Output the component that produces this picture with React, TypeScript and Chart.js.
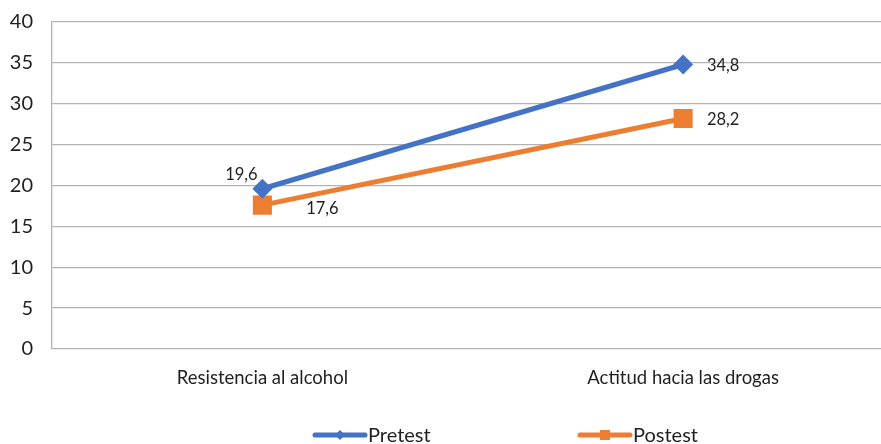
import React, { useEffect, useRef } from "react";
import { Chart, registerables } from "chart.js";

Chart.register(...registerables);

const categories = ["Resistencia al alcohol", "Actitud hacia las drogas"];
const pretest = [19.6, 34.8];
const postest = [17.6, 28.2];
const yTicks = { min: 0, max: 40, step: 5 };
const seriesNames = ["Pretest", "Postest"];
const colors = ["#4472C4", "#ED7D31"];

const FONT = "Lato, 'Open Sans', sans-serif";

// label offsets relative to each point (dataset -> point)
const labelOffsets = [
  [{ dx: -21, dy: -14 }, { dx: 40, dy: 1 }],
  [{ dx: 60, dy: 4 }, { dx: 40, dy: 1 }],
];

const fmt = (v: number) => v.toFixed(1).replace(".", ",");

const dataLabelPlugin = {
  id: "dataLabels",
  afterDatasetsDraw(chart: any) {
    const ctx = chart.ctx;
    ctx.save();
    ctx.font = `16.5px ${FONT}`;
    ctx.fillStyle = "#1f1f1f";
    ctx.textAlign = "center";
    ctx.textBaseline = "middle";
    chart.data.datasets.forEach((ds: any, i: number) => {
      const meta = chart.getDatasetMeta(i);
      meta.data.forEach((pt: any, j: number) => {
        const o = labelOffsets[i][j];
        ctx.fillText(fmt(ds.data[j]), pt.x + o.dx, pt.y + o.dy);
      });
    });
    ctx.restore();
  },
};

const legendPlugin = {
  id: "customLegend",
  afterDraw(chart: any) {
    const ctx = chart.ctx;
    ctx.save();
    ctx.font = `20px ${FONT}`;
    ctx.textBaseline = "middle";
    ctx.textAlign = "left";
    const y = 435;
    const starts = [315, 580];
    chart.data.datasets.forEach((ds: any, i: number) => {
      const x0 = starts[i];
      ctx.strokeStyle = ds.borderColor;
      ctx.lineWidth = 5;
      ctx.lineCap = "round";
      ctx.beginPath();
      ctx.moveTo(x0, y);
      ctx.lineTo(x0 + 50, y);
      ctx.stroke();
      ctx.fillStyle = ds.borderColor;
      const cx = x0 + 25;
      if (ds.pointStyle === "rectRot") {
        ctx.beginPath();
        ctx.moveTo(cx, y - 5);
        ctx.lineTo(cx + 5, y);
        ctx.lineTo(cx, y + 5);
        ctx.lineTo(cx - 5, y);
        ctx.closePath();
        ctx.fill();
      } else {
        ctx.fillRect(cx - 5, y - 5, 10, 10);
      }
      ctx.fillStyle = "#1f1f1f";
      ctx.fillText(ds.label, x0 + 53, y + 1);
    });
    ctx.restore();
  },
};

export default function App() {
  const ref = useRef<HTMLCanvasElement>(null);
  useEffect(() => {
    if (!ref.current) return;
    const chart = new Chart(ref.current, {
      type: "line",
      data: {
        labels: categories,
        datasets: [
          {
            label: seriesNames[0],
            data: pretest,
            borderColor: colors[0],
            backgroundColor: colors[0],
            borderWidth: 5,
            pointStyle: "rectRot",
            pointRadius: 10,
            pointHoverRadius: 10,
            pointBorderWidth: 0,
            pointBackgroundColor: colors[0],
          },
          {
            label: seriesNames[1],
            data: postest,
            borderColor: colors[1],
            backgroundColor: colors[1],
            borderWidth: 5,
            pointStyle: "rect",
            pointRadius: 13.5,
            pointHoverRadius: 13.5,
            pointBorderWidth: 0,
            pointBackgroundColor: colors[1],
          },
        ],
      },
      options: {
        responsive: false,
        maintainAspectRatio: false,
        animation: false,
        layout: { padding: { top: 22, right: 8, left: 0, bottom: 0 } },
        plugins: {
          legend: { display: false },
          title: { display: false },
          tooltip: { enabled: false },
        },
        scales: {
          x: {
            offset: true,
            grid: { display: false, drawTicks: false },
            border: { display: false },
            ticks: {
              padding: 18,
              color: "#1f1f1f",
              font: { family: FONT, size: 18.5 },
              maxRotation: 0,
            },
            afterFit: (s: any) => {
              s.height = 95;
            },
          },
          y: {
            min: yTicks.min,
            max: yTicks.max,
            grid: { color: "#b3b3b3", lineWidth: 1.3, drawTicks: false },
            border: { color: "#b3b3b3", width: 1.3 },
            ticks: {
              stepSize: yTicks.step,
              padding: 19,
              color: "#1f1f1f",
              font: { family: FONT, size: 20 },
            },
            afterFit: (s: any) => {
              s.width = 52;
              s.paddingTop = 0;
              s.paddingBottom = 0;
            },
          },
        },
      },
      plugins: [dataLabelPlugin, legendPlugin],
    });
    return () => chart.destroy();
  }, []);
  return (
    <div
      style={{
        position: "fixed",
        left: 0,
        top: 0,
        width: 881,
        height: 444,
        overflow: "hidden",
        background: "#fff",
      }}
    >
      <canvas ref={ref} width={907} height={444} style={{ display: "block", width: 907, height: 444 }} />
    </div>
  );
}
